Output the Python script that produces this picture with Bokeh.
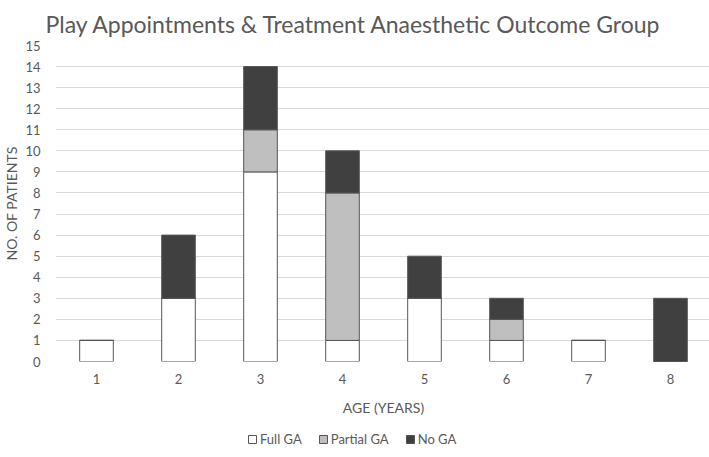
from bokeh.plotting import figure
from bokeh.layouts import column
from bokeh.models import Range1d, Legend, LegendItem, ColumnDataSource, FixedTicker
from bokeh.embed import file_html
from bokeh.resources import INLINE

ages = [1, 2, 3, 4, 5, 6, 7, 8]
full_ga = [1, 3, 9, 1, 3, 1, 1, 0]
partial_ga = [0, 0, 2, 7, 0, 1, 0, 0]
no_ga = [0, 3, 3, 2, 2, 1, 0, 3]
series = ["Full GA", "Partial GA", "No GA"]
y_ticks = list(range(0, 16))

colors = ["#ffffff", "#bfbfbf", "#404040"]
LINE = "#555555"
FONT = "Lato"
TXT = "#595959"

src = ColumnDataSource(dict(age=ages, full=full_ga, partial=partial_ga, no=no_ga))

p = figure(frame_width=656, frame_height=316, output_backend="svg", toolbar_location=None,
           x_range=Range1d(0.5, 8.5), y_range=Range1d(0, 15),
           min_border_left=42, min_border_right=0, min_border_top=38,
           min_border_bottom=0, outline_line_color=None)

p.title.text = "Play Appointments & Treatment Anaesthetic Outcome Group"
p.title.text_font = FONT
p.title.text_font_size = "23px"
p.title.text_font_style = "normal"
p.title.text_color = TXT
p.title.align = "left"
p.title.offset = -10
p.title.standoff = 15

p.vbar_stack(["full", "partial", "no"], x="age", width=0.41, source=src,
             fill_color=colors, line_color=LINE, line_width=1)

p.xaxis.ticker = FixedTicker(ticks=ages)
p.yaxis.ticker = FixedTicker(ticks=y_ticks)
for ax in (p.xaxis, p.yaxis):
    ax.axis_line_color = None
    ax.major_tick_line_color = None
    ax.minor_tick_line_color = None
    ax.major_label_text_font = FONT
    ax.major_label_text_font_size = "13px"
    ax.major_label_text_color = TXT
    ax.axis_label_text_font = FONT
    ax.axis_label_text_font_size = "14px"
    ax.axis_label_text_font_style = "normal"
    ax.axis_label_text_color = TXT

p.xaxis.axis_label = "AGE (YEARS)"
p.yaxis.axis_label = "NO. OF PATIENTS"
p.xaxis.major_label_standoff = 6
p.xaxis.axis_label_standoff = 12
p.yaxis.major_label_standoff = 9
p.yaxis.axis_label_standoff = 2

p.xgrid.grid_line_color = None
p.ygrid.grid_line_color = "#d9d9d9"
p.ygrid.ticker = FixedTicker(ticks=y_ticks)

# legend strip below the chart (dummy zero-size bars only supply the legend swatches)
lg = figure(width=698, height=29, output_backend="svg", toolbar_location=None,
            x_axis_type=None, y_axis_type=None,
            min_border_left=0, min_border_right=0, min_border_top=0, min_border_bottom=0,
            outline_line_color=None, x_range=Range1d(0, 1), y_range=Range1d(0, 1))
lg.grid.visible = False
dummies = [lg.vbar(x=[0.0], bottom=[0.5], top=[0.5], width=0, fill_color=c, line_color=LINE)
           for c in colors]

legend = Legend(items=[LegendItem(label=s, renderers=[r]) for s, r in zip(series, dummies)],
                orientation="horizontal", location=(192, 0),
                label_text_font=FONT, label_text_font_size="13px", label_text_color=TXT,
                glyph_width=10, glyph_height=10, spacing=16, label_standoff=3,
                padding=0, margin=0, border_line_color=None, background_fill_alpha=0)
lg.add_layout(legend, "center")

layout = column(p, lg, spacing=0)
open("out.html", "w").write(file_html(layout, INLINE))
